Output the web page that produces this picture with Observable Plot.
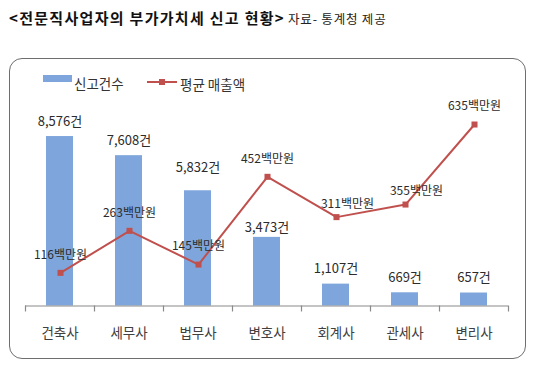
<!DOCTYPE html>
<html><head><meta charset="utf-8">
<script src="https://cdn.jsdelivr.net/npm/d3@7"></script>
<script src="https://cdn.jsdelivr.net/npm/@observablehq/plot@0.6"></script>
<style>
body{margin:0;background:#fff;font-family:"Noto Sans CJK KR",sans-serif;}
#wrap{position:relative;width:540px;height:372px;overflow:hidden;background:#fff;}
#title{position:absolute;left:9px;top:6px;white-space:nowrap;color:#111;line-height:22px;}
#title b{font-size:15px;font-weight:bold;letter-spacing:1.3px}
#title span{font-size:12.5px;color:#222;margin-left:3px;letter-spacing:0.8px}
#frame{position:absolute;left:9px;top:58px;width:517px;height:301px;border:1.6px solid #6e6e6e;border-radius:13px;box-sizing:border-box}
.layer{position:absolute;left:0;top:0}
.lg{position:absolute;font-size:13.5px;color:#333;line-height:18px;white-space:nowrap}
</style></head>
<body>
<div id="wrap">
  <div id="title"><b>&lt;전문직사업자의 부가가치세 신고 현황&gt;</b><span>자료- 통계청 제공</span></div>
  <div id="frame"></div>
  <div id="legend"></div>
</div>
<script>
const categories = ["건축사","세무사","법무사","변호사","회계사","관세사","변리사"];
const filings = [8576, 7608, 5832, 3473, 1107, 669, 657];
const avgSales = [116, 263, 145, 452, 311, 355, 635];
const seriesNames = ["신고건수", "평균 매출액"];
const countUnit = "건";
const salesUnit = "백만원";

const barColor = "#7ea6dc";
const lineColor = "#c0504d";
const textColor = "#2b2b2b";

const rows = categories.map((c, i) => ({cat: c, count: filings[i], sales: avgSales[i]}));

const common = {
  width: 540, height: 372,
  marginLeft: 25, marginRight: 32, marginTop: 60, marginBottom: 66.5,
  x: {domain: categories, paddingInner: 0.61, paddingOuter: 0.305, axis: null},
  style: {background: "transparent", fontFamily: "Noto Sans CJK KR", overflow: "visible"}
};

const fmt = d3.format(",");
const step = (540 - 25 - 32) / categories.length;
const barLabel = {x: "cat", y: "count", text: d => fmt(d.count) + countUnit, lineAnchor: "middle", fontSize: 13, fill: textColor, fontWeight: "normal"};

const barPlot = Plot.plot({
  ...common,
  y: {domain: [0, 12424], axis: null},
  marks: [
    Plot.barY(rows, {x: "cat", y: "count", fill: barColor}),
    Plot.ruleY([0], {stroke: "#8a8a8a", strokeWidth: 1.2}),
    Plot.ruleX(categories, {x: d => d, y1: 0, y2: 0, insetBottom: -6, dx: -step / 2, stroke: "#8a8a8a", strokeWidth: 1.2}),
    Plot.ruleX(categories.slice(-1), {x: d => d, y1: 0, y2: 0, insetBottom: -6, dx: step / 2, stroke: "#8a8a8a", strokeWidth: 1.2}),
    Plot.text(rows.filter(d => d.cat !== "법무사" && d.cat !== "변호사"), {...barLabel, dy: -15}),
    Plot.text(rows.filter(d => d.cat === "법무사"), {...barLabel, dy: -23}),
    Plot.text(rows.filter(d => d.cat === "변호사"), {...barLabel, dy: -10}),
    Plot.text(categories, {x: d => d, y: () => 0, dy: 28, lineAnchor: "middle", fontSize: 13.5, fill: "#404040"})
  ]
});
barPlot.classList.add("layer");

const lineLabel = {x: "cat", y: "sales", text: d => d.sales + salesUnit, lineAnchor: "middle", fontSize: 12, fill: textColor};

const linePlot = Plot.plot({
  ...common,
  y: {domain: [0, 859], axis: null},
  marks: [
    Plot.line(rows, {x: "cat", y: "sales", stroke: lineColor, strokeWidth: 2}),
    Plot.dot(rows, {x: "cat", y: "sales", symbol: "square", r: 3.4, fill: lineColor, stroke: "none"}),
    Plot.text(rows.filter(d => d.cat !== "회계사" && d.cat !== "관세사"), {...lineLabel, dy: -18}),
    Plot.text(rows.filter(d => d.cat === "회계사" || d.cat === "관세사"), {...lineLabel, dx: 11, dy: -13})
  ]
});
linePlot.classList.add("layer");

const wrap = document.getElementById("wrap");
wrap.appendChild(barPlot);
wrap.appendChild(linePlot);

// legend
const lg = document.getElementById("legend");
lg.innerHTML = `
  <div style="position:absolute;left:43px;top:75px;width:29px;height:7px;background:${barColor}"></div>
  <div class="lg" style="left:74px;top:74px">${seriesNames[0]}</div>
  <div style="position:absolute;left:147px;top:81px;width:30px;height:2px;background:${lineColor}"></div>
  <div style="position:absolute;left:159px;top:79px;width:6px;height:6px;background:${lineColor}"></div>
  <div class="lg" style="left:180px;top:75px">${seriesNames[1]}</div>
`;
</script>
</body></html>
